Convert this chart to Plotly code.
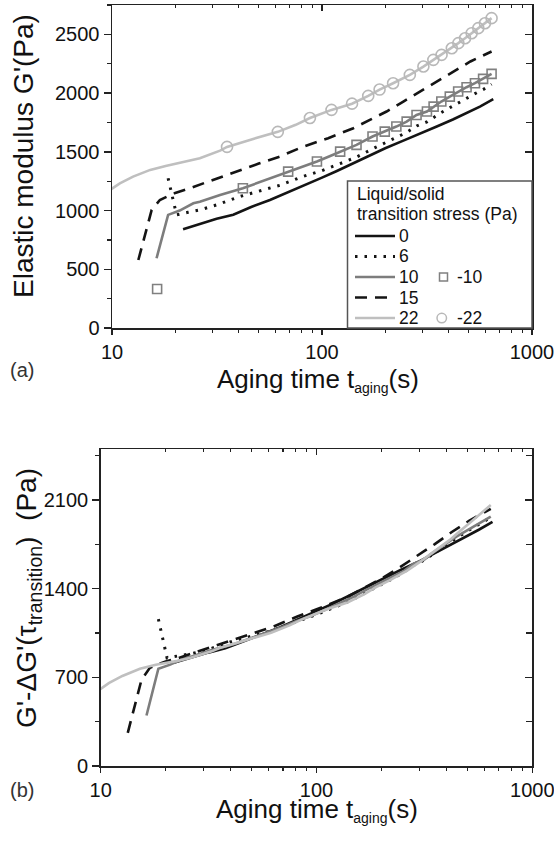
import plotly.graph_objects as go

W, H = 554, 842

# ---------------- data: panel (a) elastic modulus G' (Pa) vs aging time (s)
t0 = [21.8, 26, 31.5, 37.8, 46, 56.5, 68, 81.4, 100, 117, 140, 169, 200, 244, 295, 352, 420, 508, 565, 654]
g0 = [841, 885, 930, 965, 1030, 1090, 1150, 1215, 1280, 1335, 1400, 1470, 1530, 1595, 1655, 1715, 1775, 1843, 1885, 1948]

t6 = [18.5, 20.3, 23, 26.2, 31.5, 40.7, 50, 63, 81, 100, 122, 146, 174, 199, 226, 253, 282, 316, 370, 406, 445, 488, 535, 585, 642]
g6 = [1275, 963, 985, 1005, 1048, 1120, 1165, 1215, 1290, 1340, 1400, 1455, 1525, 1575, 1620, 1665, 1720, 1755, 1835, 1875, 1920, 1960, 1995, 2030, 2075]

t10 = [16.3, 18.5, 21, 24.4, 26.2, 32.7, 42, 55, 69, 80, 94.6, 108, 122, 146, 174, 199, 226, 253, 282, 316, 340, 370, 406, 445, 488, 535, 585, 642]
g10 = [594, 963, 1000, 1062, 1075, 1133, 1190, 1265, 1331, 1375, 1417, 1460, 1502, 1559, 1630, 1672, 1715, 1757, 1814, 1843, 1885, 1928, 1970, 2013, 2050, 2084, 2121, 2164]

tm10 = [16.4, 42, 69, 94.6, 122, 146, 174, 199, 226, 253, 282, 316, 340, 370, 406, 445, 488, 535, 585, 642]
gm10 = [332, 1190, 1331, 1417, 1502, 1559, 1630, 1672, 1715, 1757, 1814, 1843, 1885, 1928, 1970, 2013, 2050, 2084, 2121, 2164]

t15 = [13.35, 15.45, 16.9, 18.2, 20, 22.7, 27.2, 32, 40.7, 50, 63, 81.5, 107, 141, 169, 203, 244, 294, 352, 422, 509, 642]
g15 = [579, 1005, 1090, 1118, 1150, 1181, 1232, 1280, 1346, 1400, 1460, 1544, 1616, 1701, 1772, 1843, 1928, 2013, 2099, 2184, 2269, 2354]

t22 = [9.5, 10.9, 12.6, 15.2, 18, 22.7, 26.2, 32.7, 35.3, 47, 61.6, 75, 87.6, 111, 139, 166, 188, 218, 262, 304, 339, 371, 415, 446, 480, 516, 555, 597, 642]
g22 = [1160, 1232, 1289, 1346, 1380, 1417, 1445, 1510, 1542, 1610, 1670, 1730, 1788, 1857, 1910, 1976, 2030, 2084, 2155, 2226, 2283, 2325, 2382, 2425, 2467, 2510, 2553, 2595, 2638]

tm22 = [35.3, 61.6, 87.6, 111, 139, 166, 188, 218, 262, 304, 339, 371, 415, 446, 480, 516, 555, 597, 642]
gm22 = [1542, 1670, 1788, 1857, 1910, 1976, 2030, 2084, 2155, 2226, 2283, 2325, 2382, 2425, 2467, 2510, 2553, 2595, 2638]

# ---------------- data: panel (b) G' - dG'(tau_transition) (Pa)
b0 = [815, 855, 895, 930, 985, 1040, 1095, 1155, 1220, 1275, 1340, 1410, 1475, 1545, 1610, 1680, 1745, 1820, 1865, 1928]
b6 = [1160, 853, 870, 885, 920, 985, 1025, 1070, 1140, 1195, 1255, 1310, 1380, 1430, 1480, 1530, 1585, 1625, 1710, 1755, 1800, 1845, 1885, 1920, 1965]
b10 = [399, 768, 800, 850, 862, 915, 965, 1035, 1095, 1140, 1185, 1228, 1270, 1330, 1400, 1447, 1492, 1537, 1597, 1630, 1675, 1720, 1765, 1810, 1850, 1887, 1926, 1969]
b15 = [262, 680, 775, 800, 825, 850, 895, 935, 995, 1045, 1100, 1180, 1255, 1340, 1410, 1485, 1570, 1660, 1750, 1845, 1935, 2030]
b22 = [582, 654, 711, 768, 800, 830, 855, 905, 930, 995, 1052, 1110, 1165, 1235, 1290, 1355, 1410, 1465, 1540, 1615, 1675, 1722, 1785, 1832, 1878, 1925, 1970, 2015, 2060]

# ---------------- ticks
x_major = [10, 100, 1000]
x_major_txt = ["10", "100", "1000"]
x_minor = [20, 30, 40, 50, 60, 70, 80, 90, 200, 300, 400, 500, 600, 700, 800, 900]
ya_major = [0, 500, 1000, 1500, 2000, 2500]
ya_minor = [250, 750, 1250, 1750, 2250, 2750]
yb_major = [0, 700, 1400, 2100]
yb_minor = [350, 1050, 1750, 2450]

legend_labels = ["0", "6", "10", "15", "22"]

BLACK = "#141414"
GRAY = "#7d7d7d"
LGRAY = "#bfbfbf"
FONT = "Liberation Sans, Arial, sans-serif"


def X(p):
    return p / W


def Y(p):
    return 1 - p / H


fig = go.Figure()

series = [
    (t0, g0, b0, dict(color=BLACK, width=2.6, dash="solid")),
    (t6, g6, b6, dict(color=BLACK, width=3, dash="2.5px,7px")),
    (t10, g10, b10, dict(color=GRAY, width=2.6, dash="solid")),
    (t15, g15, b15, dict(color=BLACK, width=2.6, dash="12px,8px")),
    (t22, g22, b22, dict(color=LGRAY, width=2.6, dash="solid")),
]
for t, ga, gb, ln in series:
    fig.add_trace(go.Scatter(x=t, y=ga, mode="lines", line=ln, xaxis="x", yaxis="y",
                             showlegend=False, hoverinfo="skip"))
    fig.add_trace(go.Scatter(x=t, y=gb, mode="lines", line=ln, xaxis="x2", yaxis="y2",
                             showlegend=False, hoverinfo="skip"))

fig.add_trace(go.Scatter(x=tm10, y=gm10, mode="markers", xaxis="x", yaxis="y",
                         marker=dict(symbol="square-open", size=9, color="#808080",
                                     line=dict(width=1.6, color="#808080")),
                         showlegend=False, hoverinfo="skip"))
fig.add_trace(go.Scatter(x=tm22, y=gm22, mode="markers", xaxis="x", yaxis="y",
                         marker=dict(symbol="circle-open", size=11, color="#b8b8b8",
                                     line=dict(width=1.6, color="#b8b8b8")),
                         showlegend=False, hoverinfo="skip"))

# dummy traces for the mirrored (inward tick) axes
fig.add_trace(go.Scatter(x=[None], y=[None], xaxis="x3", yaxis="y3", showlegend=False, hoverinfo="skip"))
fig.add_trace(go.Scatter(x=[None], y=[None], xaxis="x4", yaxis="y4", showlegend=False, hoverinfo="skip"))

XA = [X(112), X(532)]
YA = [Y(328), Y(5)]
XB = [X(100.7), X(532.3)]
YB = [Y(766), Y(449.3)]

tickfont = dict(family=FONT, size=20, color="#111")


def xmain(domain, anchor):
    return dict(domain=domain, anchor=anchor, type="log", range=[1, 3], automargin=False,
                ticklabeloverflow="allow",
                tickmode="array", tickvals=x_major, ticktext=x_major_txt,
                ticks="outside", ticklen=5, tickwidth=1.4, tickcolor="#222",
                showline=True, mirror=True, linewidth=1.5, linecolor="#222",
                showgrid=False, zeroline=False, tickfont=tickfont,
                minor=dict(tickmode="array", tickvals=x_minor, ticks="outside", ticklen=3,
                           tickwidth=1.2, tickcolor="#222", showgrid=False))


def ymain(domain, anchor, rng, major, minor):
    return dict(domain=domain, anchor=anchor, range=rng, tickmode="array", tickvals=major,
                ticktext=[str(v) for v in major], automargin=False,
                ticklabeloverflow="allow",
                ticks="outside", ticklen=7, tickwidth=1.4, tickcolor="#222",
                showline=True, mirror=True, linewidth=1.5, linecolor="#222",
                showgrid=False, zeroline=False, tickfont=tickfont,
                minor=dict(tickmode="array", tickvals=minor, ticks="outside", ticklen=4,
                           tickwidth=1.2, tickcolor="#222", showgrid=False))


def xtop(over, anchor):
    return dict(overlaying=over, anchor=anchor, side="top", type="log", range=[1, 3],
                automargin=False,
                tickmode="array", tickvals=x_major, ticks="inside", ticklen=6, tickwidth=1.4,
                tickcolor="#222", showticklabels=False, showline=False, showgrid=False,
                zeroline=False,
                minor=dict(tickmode="array", tickvals=x_minor, ticks="inside", ticklen=3,
                           tickwidth=1.2, tickcolor="#222", showgrid=False))


def yright(over, anchor, rng, major, minor):
    return dict(overlaying=over, anchor=anchor, side="right", range=rng, automargin=False,
                tickmode="array", tickvals=major, ticks="inside", ticklen=7, tickwidth=1.4,
                tickcolor="#222", showticklabels=False, showline=False, showgrid=False,
                zeroline=False,
                minor=dict(tickmode="array", tickvals=minor, ticks="inside", ticklen=6,
                           tickwidth=1.2, tickcolor="#222", showgrid=False))


fig.update_layout(
    width=W, height=H, autosize=False,
    margin=dict(l=0, r=0, t=0, b=0, pad=0, autoexpand=False),
    paper_bgcolor="white", plot_bgcolor="white",
    showlegend=False,
    xaxis=xmain(XA, "y"),
    yaxis=ymain(YA, "x", [0, 2750], ya_major, ya_minor),
    xaxis2=xmain(XB, "y2"),
    yaxis2=ymain(YB, "x2", [0, 2500], yb_major, yb_minor),
    xaxis3=xtop("x", "y"),
    yaxis3=yright("y", "x", [0, 2750], ya_major, ya_minor),
    xaxis4=xtop("x2", "y2"),
    yaxis4=yright("y2", "x2", [0, 2500], yb_major, yb_minor),
)

ann = []
ann.append(dict(text="Elastic modulus G'(Pa)", x=X(24), y=Y(156), textangle=-90,
                font=dict(family=FONT, size=28, color="#111")))
ann.append(dict(text="Aging time t<sub><span style='font-size:14px'>aging</span></sub>(s)",
                x=X(318), y=Y(380), font=dict(family=FONT, size=26, color="#111")))
ann.append(dict(text="G'-ΔG'(τ<sub>transition</sub>)\u00a0\u00a0(Pa)", x=X(28), y=Y(598),
                textangle=-90, font=dict(family=FONT, size=28, color="#111")))
ann.append(dict(text="Aging time t<sub><span style='font-size:14px'>aging</span></sub>(s)",
                x=X(317), y=Y(810), font=dict(family=FONT, size=26, color="#111")))
ann.append(dict(text="(a)", x=X(22), y=Y(370), font=dict(family=FONT, size=20, color="#333")))
ann.append(dict(text="(b)", x=X(22), y=Y(790), font=dict(family=FONT, size=20, color="#333")))

shapes = []
# legend box
shapes.append(dict(type="rect", xref="paper", yref="paper", x0=X(347.5), x1=X(532), y0=Y(328), y1=Y(181),
                   line=dict(color="#555", width=1.5), fillcolor="white", layer="above"))
lfont = dict(family=FONT, size=17.5, color="#111")
ann.append(dict(text="Liquid/solid", x=X(355), y=Y(193.5), xanchor="left", font=lfont))
ann.append(dict(text="transition stress (Pa)", x=X(355), y=Y(214), xanchor="left", font=lfont))
row_y = [236, 256.5, 277, 297.5, 318]
styles = [series[i][3] for i in range(5)]
for lab, ry, st in zip(legend_labels, row_y, styles):
    shapes.append(dict(type="line", xref="paper", yref="paper", x0=X(355), x1=X(395), y0=Y(ry), y1=Y(ry),
                       line=dict(color=st["color"], width=st["width"], dash=st["dash"]), layer="above"))
    ann.append(dict(text=lab, x=X(397), y=Y(ry), xanchor="left", font=lfont))
# marker entries
shapes.append(dict(type="rect", xref="paper", yref="paper", x0=X(439.5), x1=X(447.5), y0=Y(273), y1=Y(281),
                   line=dict(color="#808080", width=1.5), layer="above"))
ann.append(dict(text="-10", x=X(455), y=Y(277), xanchor="left", font=lfont))
shapes.append(dict(type="circle", xref="paper", yref="paper", x0=X(437), x1=X(446.5), y0=Y(313.3), y1=Y(322.8),
                   line=dict(color="#b8b8b8", width=1.5), layer="above"))
ann.append(dict(text="-22", x=X(455), y=Y(318), xanchor="left", font=lfont))

for a in ann:
    a.setdefault("xref", "paper")
    a.setdefault("yref", "paper")
    a.setdefault("showarrow", False)
    a.setdefault("xanchor", "center")
    a.setdefault("yanchor", "middle")

fig.update_layout(annotations=ann, shapes=shapes)

fig.write_html("out.html", config={"displayModeBar": False, "staticPlot": True},
               post_script="document.body.style.margin='0px';document.body.style.overflow='hidden';")
